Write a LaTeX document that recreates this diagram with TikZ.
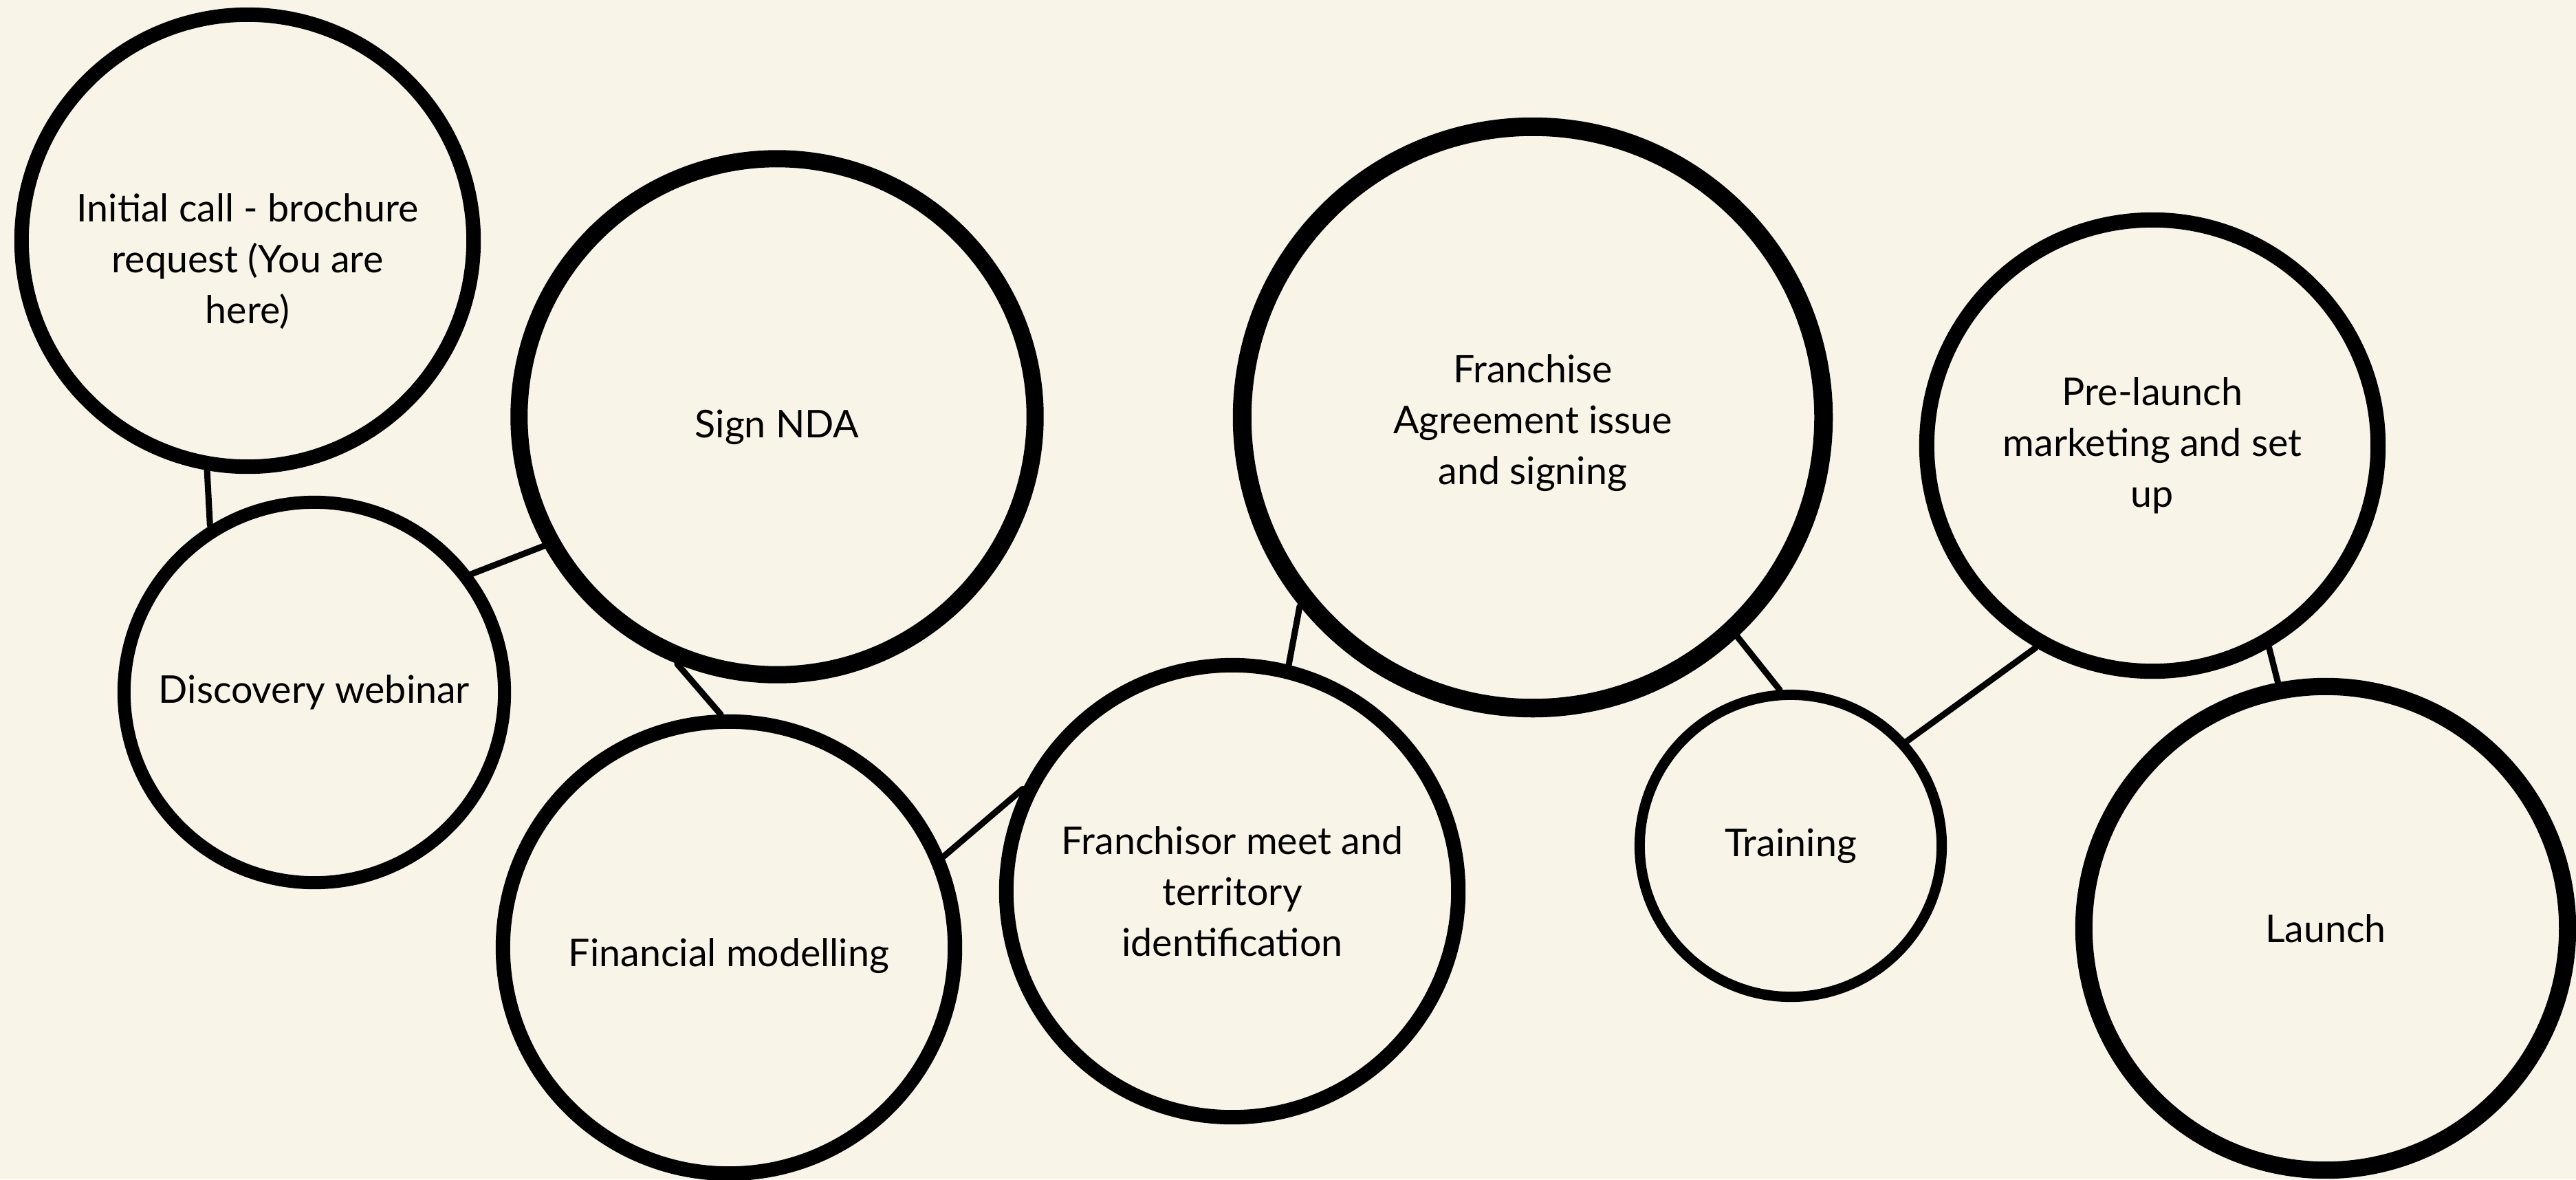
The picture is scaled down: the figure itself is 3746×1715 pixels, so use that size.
\documentclass[tikz,border=0pt]{standalone}
\usepackage{fontspec}
\setmainfont{Lato}
\usepackage{tikz}
\definecolor{paper}{HTML}{F8F4E8}
\newcommand{\stagefont}{\fontsize{15.8pt}{21pt}\selectfont}
\tikzset{
  stage/.style={circle, draw=black, fill=paper, inner sep=0pt, align=center, font=\stagefont},
  lbl/.style={inner sep=0pt, align=center, font=\stagefont},
  link/.style={line width=0.09cm, line cap=round}
}

\begin{document}
\begin{tikzpicture}[x=0.01cm, y=-0.01cm]
  \fill[paper] (0,0) rectangle (3746,1715);
  \useasboundingbox (0,0) rectangle (3746,1715);

  \node[stage, minimum size=6.57cm, line width=0.21cm,
        label={[lbl, yshift=-0.3cm]center:Initial call - brochure\\request (You are\\here)}] (init) at (360,350) {};
  \node[stage, minimum size=5.53cm, line width=0.19cm] (webinar) at (457,1007) {Discovery webinar};
  \node[stage, minimum size=7.5cm, line width=0.25cm,
        label={[lbl, yshift=-0.15cm]center:Sign NDA}] (nda) at (1130,606) {};
  \node[stage, minimum size=6.57cm, line width=0.21cm,
        label={[lbl, yshift=-0.12cm]center:Financial modelling}] (finance) at (1060,1378) {};
  \node[stage, minimum size=6.57cm, line width=0.21cm] (meet) at (1792,1296) {Franchisor meet and\\territory\\identification};
  \node[stage, minimum size=8.45cm, line width=0.27cm,
        label={[lbl, yshift=-0.08cm]center:Franchise\\Agreement issue\\and signing}] (agreement) at (2229,607) {};
  \node[stage, minimum size=4.39cm, line width=0.15cm] (training) at (2604,1230) {Training};
  \node[stage, minimum size=6.56cm, line width=0.22cm] (prelaunch) at (3130,648) {Pre-launch\\marketing and set\\up};
  \node[stage, minimum size=7.03cm, line width=0.25cm] (launch) at (3382,1350) {Launch};

  \draw[link] (init.260.7) -- (webinar.122);
  \draw[link] (webinar.37) -- (nda.209);
  \draw[link] (nda.248.6) -- (finance.92);
  \draw[link] (finance.23) -- (meet.154.4);
  \draw[link] (meet.76) -- (agreement.219);
  \draw[link] (agreement.313.6) -- (training.94.5);
  \draw[link] (training.42.3) -- (prelaunch.240.3);
  \draw[link] (prelaunch.300) -- (launch.101);
\end{tikzpicture}
\end{document}
